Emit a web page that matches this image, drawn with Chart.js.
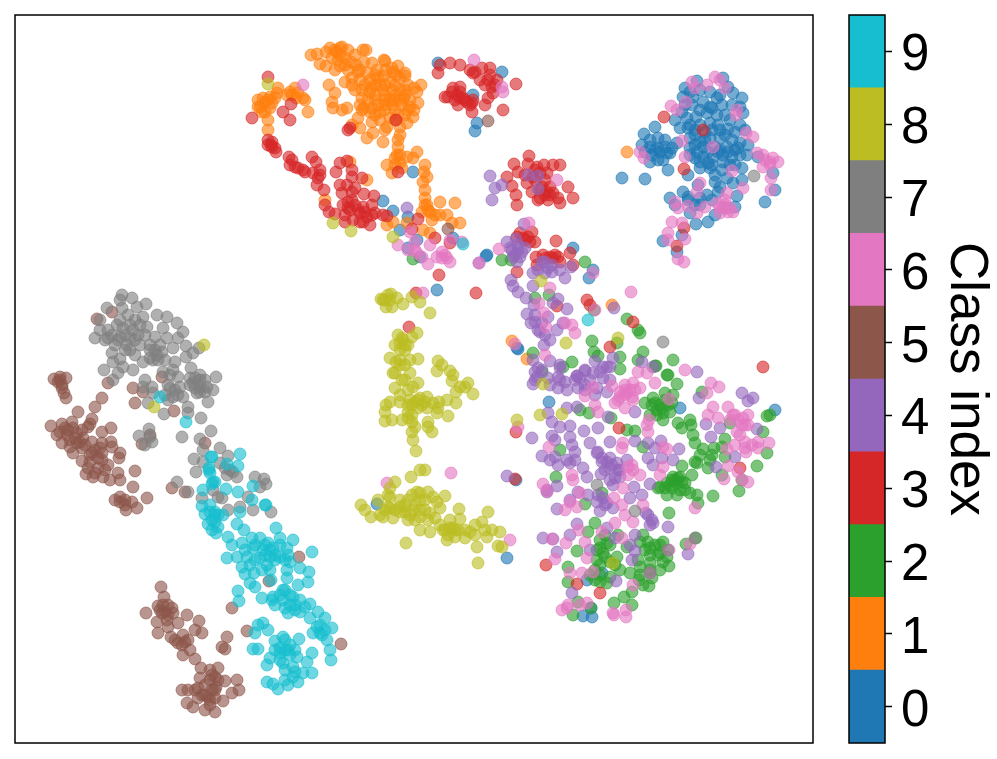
<!DOCTYPE html>
<html>
<head>
<meta charset="utf-8">
<title>Class scatter</title>
<script src="https://cdn.jsdelivr.net/npm/chart.js"></script>
<style>
  html, body { margin: 0; padding: 0; background: #fff; }
  #scatter { position: absolute; left: 0; top: 0; }
  #colorbar { position: absolute; left: 830px; top: 0; }
</style>
</head>
<body>
<canvas id="scatter" width="830" height="759"></canvas>
<canvas id="colorbar" width="167" height="759"></canvas>
<script>
const classLabels = ['0', '1', '2', '3', '4', '5', '6', '7', '8', '9'];
const classColors = ['#1f77b4', '#ff7f0e', '#2ca02c', '#d62728', '#9467bd', '#8c564b', '#e377c2', '#7f7f7f', '#bcbd22', '#17becf'];
const segmentSize = [1, 1, 1, 1, 1, 1, 1, 1, 1, 1];

// values
const class0 = [[697,81],[685,88],[723,78],[683,97],[728,87],[733,93],[742,98],[693,97],[703,102],[717,98],[722,105],[732,105],[740,107],[743,113],[740,125],[728,129],[655,127],[644,134],[675,120],[687,118],[680,128],[688,128],[696,117],[707,113],[717,115],[718,125],[710,123],[700,125],[658,138],[665,140],[642,145],[650,147],[658,148],[667,153],[670,153],[650,162],[658,160],[663,160],[668,170],[677,143],[690,148],[700,142],[710,138],[720,138],[732,140],[740,143],[747,155],[740,155],[695,158],[703,157],[713,157],[723,155],[732,157],[700,168],[710,168],[688,175],[715,175],[715,182],[742,168],[622,178],[645,179],[733,183],[720,187],[683,192],[670,198],[688,197],[707,195],[737,196],[718,192],[735,207],[698,185],[765,202],[775,190],[773,173],[758,157],[715,215],[708,222],[696,224],[690,213],[663,241],[682,235],[677,252],[703,147],[715,147],[727,147],[697,152],[720,150],[735,150],[708,163],[723,162],[730,165],[650,140],[672,148],[692,105],[710,107],[725,115],[705,132],[695,135],[730,120],[700,205],[725,208],[475,131],[477,123],[502,72],[438,63],[473,95],[413,172],[383,201],[393,211],[400,230],[408,217],[417,240],[408,248],[420,257],[453,238],[486,256],[487,255],[573,248],[593,270],[589,278],[518,349],[549,402],[775,410],[680,408],[507,558],[516,480],[583,616],[592,617],[591,608],[602,573],[587,580],[437,290],[517,348],[377,504],[700,110],[712,108],[690,125],[695,130],[705,140],[712,130],[720,130],[735,132],[725,135],[690,138],[695,145],[708,152],[718,152],[728,152],[738,148],[690,155],[700,162],[712,165],[722,170],[735,165],[655,150],[645,152],[660,152],[652,155],[665,147],[700,90],[710,92],[690,92],[720,95],[675,205],[688,200],[700,198],[712,200],[695,205],[685,105],[682,112],[745,130],[748,145],[727,178],[742,180]];
const class1 = [[311,55],[317,54],[326,66],[320,64],[330,48],[337,52],[342,47],[348,50],[338,60],[345,58],[351,62],[332,58],[340,66],[348,70],[356,65],[363,50],[366,50],[358,72],[364,62],[372,63],[384,60],[377,70],[367,73],[360,80],[370,80],[378,78],[386,70],[392,68],[398,66],[396,75],[384,76],[352,78],[345,82],[362,90],[371,88],[380,85],[390,82],[400,78],[405,76],[392,90],[400,90],[408,85],[414,88],[421,85],[417,92],[404,98],[394,100],[385,95],[375,95],[368,100],[362,98],[378,105],[385,110],[392,105],[402,105],[410,100],[418,103],[408,110],[414,110],[398,115],[390,118],[380,120],[370,112],[364,108],[358,118],[352,125],[360,128],[329,85],[335,93],[332,102],[333,108],[342,110],[347,108],[355,90],[373,133],[367,138],[383,142],[387,127],[400,127],[407,123],[413,117],[410,107],[405,90],[405,73],[393,72],[385,61],[398,140],[398,147],[397,155],[387,165],[392,173],[395,158],[400,163],[407,157],[417,152],[413,158],[425,165],[424,172],[427,177],[423,182],[425,190],[425,198],[427,205],[430,212],[440,202],[455,203],[440,215],[447,215],[460,223],[452,223],[432,220],[422,212],[393,222],[387,225],[407,223],[423,230],[430,233],[350,162],[367,180],[325,200],[258,100],[260,107],[265,102],[270,97],[277,93],[278,88],[265,112],[270,108],[268,120],[268,130],[290,92],[295,88],[303,98],[298,93],[308,112],[287,95],[275,98],[305,100],[627,152],[512,341],[527,359],[612,305],[335,50],[340,55],[345,65],[335,70],[355,55],[375,85],[385,85],[395,85],[375,100],[385,100],[395,95],[405,95],[375,115],[385,105],[395,110],[405,115],[365,85],[375,75],[370,92],[360,105],[395,120],[385,130],[400,135],[258,107],[263,98],[262,112],[268,100],[272,103],[292,95],[296,98],[395,165],[400,155],[402,168],[428,210],[435,215],[340,48],[372,108],[383,90],[390,100],[400,100],[380,112],[372,122],[326,52],[360,70],[352,85],[362,110],[425,205]];
const class2 = [[668,375],[677,384],[653,398],[665,393],[673,395],[645,403],[652,405],[657,410],[663,413],[670,412],[672,403],[663,420],[650,415],[678,423],[690,420],[691,425],[682,428],[693,435],[695,443],[703,449],[714,448],[725,439],[722,447],[725,457],[710,460],[697,463],[708,468],[695,462],[722,475],[742,480],[757,466],[739,491],[767,453],[763,432],[767,416],[770,415],[702,392],[730,423],[635,431],[627,430],[643,447],[682,466],[692,475],[667,483],[677,483],[682,482],[673,477],[685,483],[658,488],[667,495],[677,495],[690,493],[697,495],[698,503],[713,496],[660,487],[672,488],[680,477],[669,513],[595,523],[588,532],[600,540],[607,543],[597,550],[603,553],[597,560],[618,535],[627,547],[643,535],[640,542],[650,548],[663,542],[660,553],[667,557],[663,562],[669,566],[650,563],[640,567],[638,560],[620,570],[617,557],[610,562],[630,573],[610,577],[600,582],[607,583],[649,586],[652,578],[639,580],[632,592],[624,597],[614,603],[632,605],[577,551],[568,567],[568,582],[573,615],[578,602],[591,608],[686,544],[696,538],[556,477],[585,504],[611,418],[560,450],[589,413],[602,493],[580,410],[620,369],[655,366],[673,360],[502,260],[511,260],[585,262],[549,295],[535,298],[594,310],[627,319],[638,330],[640,333],[592,341],[617,343],[594,352],[598,356],[620,357],[643,352],[638,360],[656,366],[533,353],[572,362],[563,367],[542,372],[667,375],[413,259],[655,403],[660,405],[665,400],[657,415],[668,405],[662,408],[675,480],[670,485],[680,490],[665,488],[672,480],[685,490],[678,478],[600,548],[605,557],[595,570],[600,565],[610,545],[605,535],[645,550],[650,555],[655,545],[660,545],[650,570],[658,555],[648,542],[640,575],[595,580],[600,575],[615,565],[660,570],[643,585],[590,575],[712,455],[700,455]];
const class3 = [[268,77],[252,118],[283,112],[291,104],[290,120],[268,140],[271,145],[272,147],[276,152],[289,157],[290,165],[295,167],[303,170],[312,157],[316,162],[313,173],[320,175],[317,185],[324,190],[325,205],[329,212],[335,214],[345,222],[340,163],[347,161],[336,172],[352,170],[352,177],[362,178],[347,185],[355,188],[342,193],[364,194],[374,196],[348,202],[355,205],[363,207],[372,205],[348,208],[360,213],[367,217],[370,225],[363,222],[353,220],[375,213],[383,215],[350,128],[348,130],[396,120],[398,172],[440,65],[438,73],[450,63],[460,65],[470,70],[482,68],[490,68],[473,73],[488,80],[497,80],[516,84],[503,110],[493,93],[488,98],[485,105],[472,103],[472,112],[458,105],[453,88],[460,87],[457,95],[445,97],[448,97],[463,98],[460,92],[467,102],[473,100],[492,87],[529,156],[514,164],[528,164],[518,172],[537,167],[544,165],[553,165],[560,165],[507,177],[512,186],[516,195],[517,205],[527,183],[532,192],[540,198],[548,200],[547,192],[553,193],[560,203],[558,198],[573,198],[568,187],[545,180],[540,173],[547,173],[533,177],[550,187],[538,200],[542,187],[528,237],[517,237],[535,242],[556,241],[523,238],[532,232],[570,253],[543,255],[536,257],[553,258],[558,257],[550,257],[573,265],[537,265],[517,272],[476,293],[587,300],[590,305],[633,322],[610,347],[557,306],[439,275],[435,238],[418,219],[387,216],[412,229],[450,243],[664,117],[703,130],[684,169],[684,228],[677,246],[763,367],[619,428],[516,432],[740,468],[515,479],[546,565],[577,584],[600,593],[416,293],[409,327],[460,98],[465,100],[455,100],[470,105],[452,92],[485,85],[490,75],[495,85],[475,72],[480,80],[343,205],[350,210],[358,210],[365,212],[372,215],[345,215],[360,222],[352,200],[272,142],[275,148],[268,145],[292,160],[298,168],[305,172],[318,178],[320,170],[535,180],[540,190],[535,170],[545,195],[550,195],[525,175],[525,240],[520,233],[530,242],[555,255],[546,258],[560,262],[352,192],[340,185]];
const class4 = [[490,176],[502,185],[495,188],[492,200],[528,175],[538,176],[538,189],[524,224],[507,242],[516,239],[510,248],[518,250],[525,248],[513,257],[520,257],[517,262],[479,263],[542,262],[552,265],[533,273],[545,273],[560,270],[571,267],[565,278],[511,280],[513,286],[518,292],[533,286],[526,298],[534,305],[558,299],[553,303],[567,309],[527,314],[548,317],[535,315],[531,323],[538,330],[542,323],[557,330],[563,323],[550,340],[544,345],[614,308],[533,360],[538,368],[550,361],[560,368],[535,380],[560,380],[577,376],[585,371],[595,361],[607,367],[613,358],[642,362],[653,367],[533,384],[537,377],[542,370],[558,377],[558,388],[567,390],[577,376],[585,370],[593,373],[603,367],[610,367],[603,378],[578,388],[597,388],[607,392],[567,408],[577,407],[548,413],[552,422],[560,427],[570,426],[584,431],[598,428],[552,436],[532,438],[542,456],[555,457],[570,437],[572,445],[590,443],[610,442],[635,441],[648,443],[661,441],[679,449],[655,448],[597,453],[602,458],[607,462],[617,463],[627,460],[648,458],[662,458],[673,460],[575,460],[567,460],[558,465],[570,463],[583,468],[587,477],[601,474],[610,468],[618,470],[620,477],[653,465],[613,485],[634,487],[650,484],[578,492],[557,486],[547,492],[588,495],[597,502],[603,498],[607,503],[600,511],[613,508],[630,498],[642,495],[646,513],[652,520],[653,523],[557,509],[570,500],[577,524],[570,535],[543,538],[553,539],[590,550],[557,552],[607,528],[615,538],[635,535],[630,545],[635,551],[632,560],[668,527],[688,554],[616,581],[572,593],[716,467],[742,393],[753,398],[748,401],[699,398],[697,372],[706,424],[720,428],[711,437],[757,429],[735,457],[635,412],[608,417],[407,208],[507,476],[547,490],[512,250],[518,245],[515,255],[522,252],[545,262],[548,268],[538,270],[552,272],[540,332],[545,335],[535,322],[560,365],[535,372],[548,378],[550,385],[565,382],[575,380],[580,378],[590,380],[585,385],[600,372],[610,380],[610,458],[612,465],[605,470],[602,462],[620,470],[610,480],[615,478],[598,495],[605,505],[648,515],[650,525],[598,452],[555,440],[575,452],[550,460],[585,390],[595,395]];
const class5 = [[54,379],[60,377],[66,378],[58,382],[62,388],[64,393],[66,398],[102,398],[78,412],[95,407],[92,419],[90,424],[51,426],[62,424],[72,422],[60,432],[67,435],[73,428],[77,433],[82,430],[88,427],[111,428],[102,432],[62,443],[70,440],[77,443],[83,438],[73,453],[82,448],[92,442],[102,443],[111,442],[112,447],[82,461],[92,453],[102,453],[102,460],[90,462],[120,453],[119,458],[108,465],[98,468],[86,474],[93,477],[103,477],[110,480],[118,473],[120,480],[135,471],[133,487],[120,497],[115,500],[125,500],[132,502],[126,510],[137,508],[147,498],[172,488],[185,492],[97,319],[112,312],[108,383],[133,388],[143,392],[135,403],[162,377],[174,411],[142,444],[150,435],[205,443],[161,587],[164,597],[158,606],[163,605],[146,613],[172,608],[173,613],[162,613],[157,622],[167,620],[168,627],[187,615],[199,621],[158,633],[171,637],[178,623],[195,630],[202,633],[183,635],[178,643],[188,640],[183,655],[190,650],[195,659],[201,668],[210,670],[218,668],[215,677],[200,678],[225,681],[237,680],[239,690],[232,693],[216,687],[182,690],[188,690],[198,688],[202,695],[208,697],[215,698],[223,701],[187,703],[193,707],[205,710],[215,712],[210,705],[227,637],[222,647],[225,649],[232,608],[247,631],[341,644],[299,557],[269,581],[488,121],[448,229],[60,380],[62,385],[68,430],[75,438],[80,442],[70,447],[85,445],[95,450],[98,458],[100,448],[105,470],[88,468],[95,473],[90,455],[57,435],[65,428],[205,685],[210,680],[212,690],[205,695],[210,700],[215,690],[218,680],[212,675],[195,690],[198,698],[160,610],[165,612],[168,615],[168,605],[175,640],[182,645],[185,642],[125,505],[120,502]];
const class6 = [[692,82],[715,77],[720,80],[725,88],[707,85],[695,88],[686,102],[671,106],[677,110],[737,110],[736,115],[746,133],[753,137],[682,141],[640,152],[644,158],[685,157],[713,147],[732,171],[757,153],[763,155],[773,158],[778,162],[770,165],[763,167],[771,178],[771,190],[743,188],[700,183],[697,192],[727,193],[675,202],[678,208],[688,206],[697,213],[705,207],[717,203],[723,207],[728,212],[733,212],[725,200],[672,222],[682,223],[668,233],[668,240],[685,239],[678,259],[684,262],[474,60],[303,85],[502,87],[503,92],[410,232],[398,245],[415,242],[417,253],[430,245],[428,264],[437,257],[442,252],[447,258],[450,262],[450,240],[462,242],[422,257],[479,263],[529,223],[499,249],[557,180],[593,273],[550,288],[631,292],[595,310],[565,323],[572,325],[575,333],[545,355],[515,344],[546,327],[539,303],[544,313],[685,370],[711,383],[719,387],[707,393],[713,407],[728,407],[708,415],[718,418],[733,415],[743,418],[748,415],[745,425],[737,432],[735,445],[745,442],[727,449],[758,442],[769,443],[758,448],[746,452],[728,466],[738,472],[742,480],[748,482],[724,479],[638,372],[647,373],[655,383],[640,388],[633,383],[625,390],[620,397],[615,403],[627,393],[632,397],[612,386],[593,387],[585,396],[595,405],[598,412],[625,408],[633,400],[669,399],[647,425],[648,432],[649,420],[622,448],[623,443],[663,447],[667,449],[628,467],[633,470],[640,475],[663,467],[660,475],[623,488],[580,493],[572,475],[573,480],[543,484],[547,491],[570,502],[565,510],[577,507],[614,498],[622,505],[643,505],[625,515],[633,522],[615,523],[549,447],[518,427],[510,540],[579,530],[602,532],[585,542],[566,543],[552,539],[622,538],[587,558],[555,559],[669,550],[690,544],[695,508],[570,573],[582,573],[593,572],[650,573],[633,585],[568,605],[562,610],[567,608],[580,605],[587,603],[614,615],[626,610],[626,617],[613,613],[451,473],[387,483],[423,293],[625,395],[630,390],[620,392],[635,390],[625,385],[618,400],[730,420],[738,420],[742,425],[735,415],[748,425],[740,435],[745,448],[752,445],[632,465],[628,475],[408,250],[415,250],[720,208],[725,205],[730,208],[720,213],[770,162],[765,160],[445,255],[442,258]];
const class7 = [[122,295],[132,298],[120,300],[107,308],[146,304],[137,307],[122,308],[157,315],[167,317],[177,323],[128,315],[143,317],[100,320],[117,325],[123,328],[108,330],[133,330],[147,327],[163,328],[95,338],[108,338],[120,337],[130,338],[138,335],[127,345],[140,345],[155,337],[183,332],[178,338],[167,338],[173,348],[186,346],[199,348],[193,353],[186,357],[157,355],[150,350],[162,352],[112,353],[120,359],[113,362],[135,355],[143,362],[153,360],[165,360],[175,362],[123,367],[133,370],[104,370],[118,373],[113,380],[163,372],[173,370],[191,368],[145,380],[152,387],[143,387],[153,393],[178,377],[168,385],[180,387],[173,397],[183,397],[200,375],[216,377],[193,383],[200,387],[207,387],[213,390],[197,393],[188,407],[208,402],[164,414],[188,413],[148,403],[201,418],[139,436],[149,429],[152,442],[145,445],[150,437],[182,437],[211,431],[200,439],[203,450],[194,459],[203,462],[220,448],[196,472],[228,456],[220,463],[227,475],[237,477],[233,472],[255,477],[264,479],[266,484],[177,482],[188,492],[202,498],[218,497],[213,490],[248,497],[240,507],[253,510],[271,512],[260,487],[228,510],[222,498],[754,176],[663,342],[597,485],[635,511],[650,573],[668,550],[695,538],[112,335],[118,340],[125,335],[115,345],[125,350],[130,325],[135,340],[130,350],[120,320],[140,325],[150,345],[155,350],[150,358],[160,345],[158,360],[170,375],[190,378],[195,378],[200,380],[205,380],[195,388],[200,392],[205,392],[190,385],[170,388],[175,390],[165,395],[178,395],[168,400],[145,335],[135,320],[100,330],[105,340],[225,468],[230,470]];
const class8 = [[381,299],[391,294],[386,307],[392,307],[390,300],[397,298],[403,304],[412,297],[420,302],[430,313],[383,300],[398,335],[417,333],[412,337],[403,340],[400,343],[405,350],[390,358],[400,360],[418,359],[410,360],[400,365],[410,373],[393,373],[402,380],[418,383],[413,387],[395,388],[408,390],[400,395],[438,361],[442,365],[437,371],[450,371],[453,375],[452,381],[468,383],[460,387],[465,387],[456,392],[473,394],[447,400],[456,403],[448,416],[438,408],[439,402],[433,403],[390,402],[386,405],[400,402],[415,402],[422,405],[427,397],[427,408],[418,408],[385,412],[385,421],[392,420],[402,420],[408,412],[408,418],[412,422],[428,422],[428,427],[432,432],[415,427],[412,432],[413,440],[416,451],[437,413],[517,420],[411,477],[420,470],[425,470],[395,482],[390,488],[361,505],[365,510],[371,517],[378,500],[390,497],[383,517],[393,518],[388,507],[400,507],[408,500],[417,492],[428,492],[420,493],[433,497],[445,496],[440,508],[413,510],[408,520],[420,517],[428,520],[420,530],[430,532],[459,509],[450,520],[460,519],[443,530],[453,528],[447,540],[455,537],[465,538],[465,530],[488,512],[482,522],[492,530],[500,532],[487,537],[475,535],[477,547],[478,563],[498,546],[406,543],[541,281],[566,343],[618,338],[543,384],[540,415],[562,414],[502,547],[613,563],[268,84],[333,223],[351,231],[393,237],[204,345],[154,407],[410,400],[418,400],[425,402],[412,405],[420,398],[408,405],[400,512],[405,505],[410,515],[415,505],[420,510],[425,510],[415,520],[405,512],[400,500],[425,500],[430,513],[412,495],[420,500],[395,510],[385,510],[388,495],[445,530],[450,528],[455,530],[440,525],[448,535],[458,530],[400,350],[405,345],[402,338],[395,345],[408,345],[396,362],[405,365],[385,300],[388,295],[412,415],[390,508],[380,515],[395,373],[405,380],[437,502],[435,518],[470,532],[485,530],[475,525]];
const class9 = [[240,454],[211,457],[238,466],[227,464],[209,470],[213,482],[203,490],[226,489],[238,492],[253,486],[252,500],[265,505],[240,512],[202,506],[210,505],[205,514],[215,512],[223,515],[208,524],[215,522],[216,533],[218,527],[237,524],[244,530],[276,528],[228,537],[232,545],[227,558],[237,557],[242,543],[252,538],[260,538],[268,543],[280,538],[293,540],[312,552],[253,548],[263,550],[273,548],[287,548],[247,557],[260,558],[270,557],[280,557],[288,555],[242,567],[250,565],[267,565],[245,574],[254,573],[287,570],[300,568],[309,572],[287,578],[271,580],[308,582],[298,585],[250,583],[255,587],[262,598],[238,591],[239,601],[273,597],[283,590],[293,597],[275,605],[283,600],[290,605],[300,600],[310,604],[305,607],[288,613],[310,618],[318,612],[325,618],[332,628],[317,627],[320,633],[327,640],[330,650],[331,660],[313,633],[258,625],[263,623],[255,633],[268,630],[253,649],[258,649],[283,637],[275,641],[299,639],[312,653],[288,650],[280,653],[270,658],[267,665],[297,657],[307,662],[283,663],[293,667],[312,673],[303,673],[293,677],[285,680],[267,682],[273,684],[278,689],[288,685],[298,682],[160,397],[186,422],[212,457],[209,468],[210,473],[215,482],[212,484],[266,505],[588,320],[463,244],[215,515],[212,520],[218,515],[210,512],[212,530],[265,545],[270,550],[275,555],[255,545],[245,550],[255,560],[265,555],[280,545],[285,560],[275,560],[262,570],[270,570],[290,562],[285,590],[290,595],[280,595],[295,605],[285,608],[295,610],[300,612],[272,600],[280,648],[285,650],[290,655],[290,645],[295,650],[280,660],[285,670],[295,672],[275,650],[285,640],[320,625],[322,635],[325,630]];

const classPoints = [class0, class1, class2, class3, class4, class5, class6, class7, class8, class9];

function withAlpha(hex, a) {
  const n = parseInt(hex.slice(1), 16);
  return `rgba(${n >> 16},${(n >> 8) & 255},${n & 255},${a})`;
}

// box around the plot, same for both charts
const frame = {
  id: 'frame',
  afterDraw(chart) {
    const { ctx, chartArea: a } = chart;
    ctx.save();
    ctx.strokeStyle = '#000';
    ctx.lineWidth = 1.5;
    ctx.strokeRect(a.left, a.top, a.right - a.left, a.bottom - a.top);
    ctx.restore();
  }
};

new Chart(document.getElementById('scatter'), {
  type: 'scatter',
  data: {
    datasets: classPoints.map((pts, i) => ({
      label: classLabels[i],
      data: pts,
      order: 9 - i,
      pointRadius: 6,
      pointBorderWidth: 1,
      pointBackgroundColor: withAlpha(classColors[i], 0.62),
      pointBorderColor: withAlpha(classColors[i], 0.62)
    }))
  },
  options: {
    responsive: false,
    animation: false,
    layout: { padding: { left: 15, top: 15, right: 17, bottom: 16 } },
    plugins: { legend: { display: false }, tooltip: { enabled: false } },
    scales: {
      x: { display: false, min: 15, max: 813 },
      y: { display: false, min: 15, max: 743, reverse: true }
    }
  },
  plugins: [frame]
});

new Chart(document.getElementById('colorbar'), {
  type: 'bar',
  data: {
    labels: [''],
    datasets: classLabels.map((c, i) => ({
      label: c,
      data: [segmentSize[i]],
      backgroundColor: classColors[i],
      barPercentage: 1,
      categoryPercentage: 1,
      stack: 'bar'
    }))
  },
  options: {
    responsive: false,
    animation: false,
    layout: { padding: { left: 19, top: 15, bottom: 16, right: 0 } },
    plugins: { legend: { display: false }, tooltip: { enabled: false } },
    scales: {
      x: { display: false, stacked: true },
      y: {
        position: 'right',
        stacked: true,
        min: 0,
        max: 10,
        afterBuildTicks(axis) {
          axis.ticks = classLabels.map((c, i) => ({ value: i + 0.5 }));
        },
        afterFit(axis) {
          axis.width = 112;
          axis.paddingTop = 0;
          axis.paddingBottom = 0;
        },
        grid: { drawOnChartArea: false, drawTicks: true, tickLength: 7, tickColor: '#000', tickWidth: 1.5 },
        border: { display: false },
        ticks: {
          autoSkip: false,
          padding: 9,
          labelOffset: 5,
          color: '#000',
          font: { family: 'Liberation Sans', size: 51 },
          callback: (v) => classLabels[Math.floor(v)]
        },
        title: {
          display: true,
          text: 'Class index',
          color: '#000',
          font: { family: 'Liberation Sans', size: 53 },
          padding: { top: 0, bottom: 12 }
        }
      }
    }
  },
  plugins: [frame]
});
</script>
</body>
</html>
